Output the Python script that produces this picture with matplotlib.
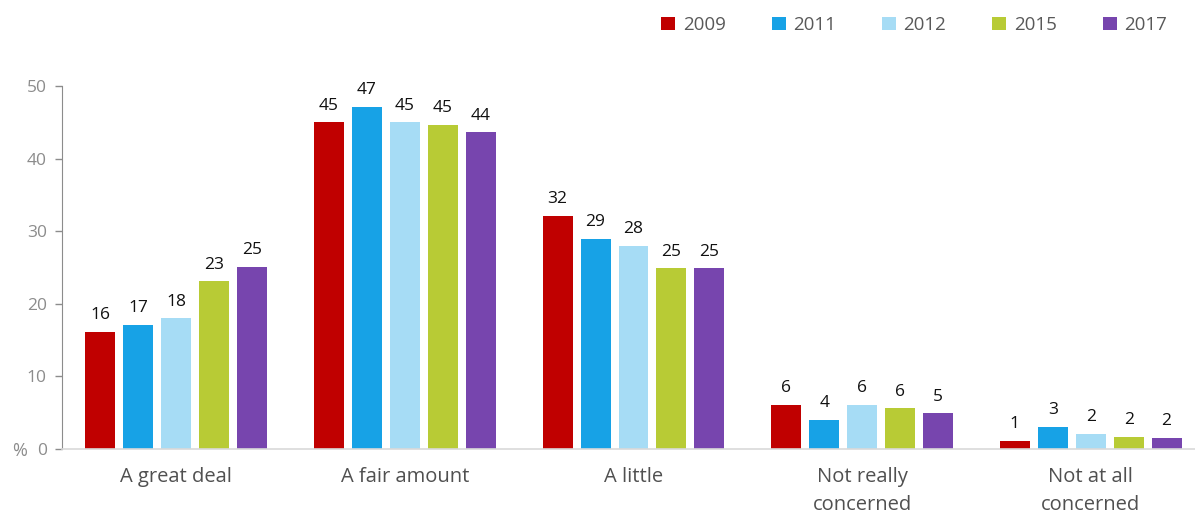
import matplotlib
matplotlib.use("Agg")
import matplotlib.pyplot as plt
import numpy as np
from matplotlib.patches import Patch

categories = ["A great deal", "A fair amount", "A little", "Not really\nconcerned", "Not at all\nconcerned"]
years = ["2009", "2011", "2012", "2015", "2017"]
values = {
    "2009": [16.1, 45.0, 32.1, 6.05, 1.1],
    "2011": [17.1, 47.1, 28.9, 4.0, 3.05],
    "2012": [18.0, 45.0, 28.0, 6.05, 2.05],
    "2015": [23.1, 44.6, 24.9, 5.6, 1.7],
    "2017": [25.05, 43.6, 24.9, 4.9, 1.55],
}
labels = {
    "2009": [16, 45, 32, 6, 1],
    "2011": [17, 47, 29, 4, 3],
    "2012": [18, 45, 28, 6, 2],
    "2015": [23, 45, 25, 6, 2],
    "2017": [25, 44, 25, 5, 2],
}
colors = ["#C00000", "#17A2E6", "#A6DCF5", "#B8CB35", "#7745AE"]

W, H = 1195, 514
fig = plt.figure(figsize=(W / 100, H / 100), dpi=100)
ax_left, ax_right = 62, 1195
ax_bottom, ax_top = 449, 86
ax = fig.add_axes([ax_left / W, 1 - ax_bottom / H, (ax_right - ax_left) / W, (ax_bottom - ax_top) / H])

x = np.arange(len(categories))
step = 0.166
width = 0.131
for i, (yr, c) in enumerate(zip(years, colors)):
    xs = x + (i - 2) * step
    ax.bar(xs, values[yr], width=width, color=c, zorder=2)
    for xi, v, lab in zip(xs, values[yr], labels[yr]):
        ax.text(xi, v + 1.2, str(lab), ha="center", va="bottom", fontsize=12.5,
                color="#111111", family="Open Sans")

ax.set_ylim(0, 50)
ax.set_xlim(-0.5, 4.5 - 10 / 228.6)
ax.set_yticks([0, 10, 20, 30, 40, 50])
ax.tick_params(axis="y", colors="#8c8c8c", labelsize=12.5, length=5, width=1, pad=6)
for t in ax.get_yticklabels():
    t.set_family("Open Sans")
    t.set_color("#8c8c8c")
ax.set_xticks(x)
ax.set_xticklabels(categories, fontsize=14.5, color="#505050", family="Open Sans", linespacing=1.55)
ax.tick_params(axis="x", length=0, pad=13)
for s in ["top", "right"]:
    ax.spines[s].set_visible(False)
ax.spines["left"].set_color("#8c8c8c")
ax.spines["bottom"].set_color("#d9d9d9")
ax.spines["bottom"].set_linewidth(1.2)

fig.text(12 / W, 1 - 451 / H, "%", fontsize=13, color="#8c8c8c", family="Open Sans", va="center")

handles = [Patch(facecolor=c, edgecolor="none") for c in colors]
leg = fig.legend(handles, years, loc="center right", bbox_to_anchor=(1184 / W, 1 - 25 / H),
                 ncol=5, frameon=False, handlelength=0.75, handleheight=0.75,
                 handletextpad=0.4, columnspacing=2.45, prop={"family": "Open Sans", "size": 13.5})
for t in leg.get_texts():
    t.set_color("#595959")

fig.savefig("out.png", dpi=100)
